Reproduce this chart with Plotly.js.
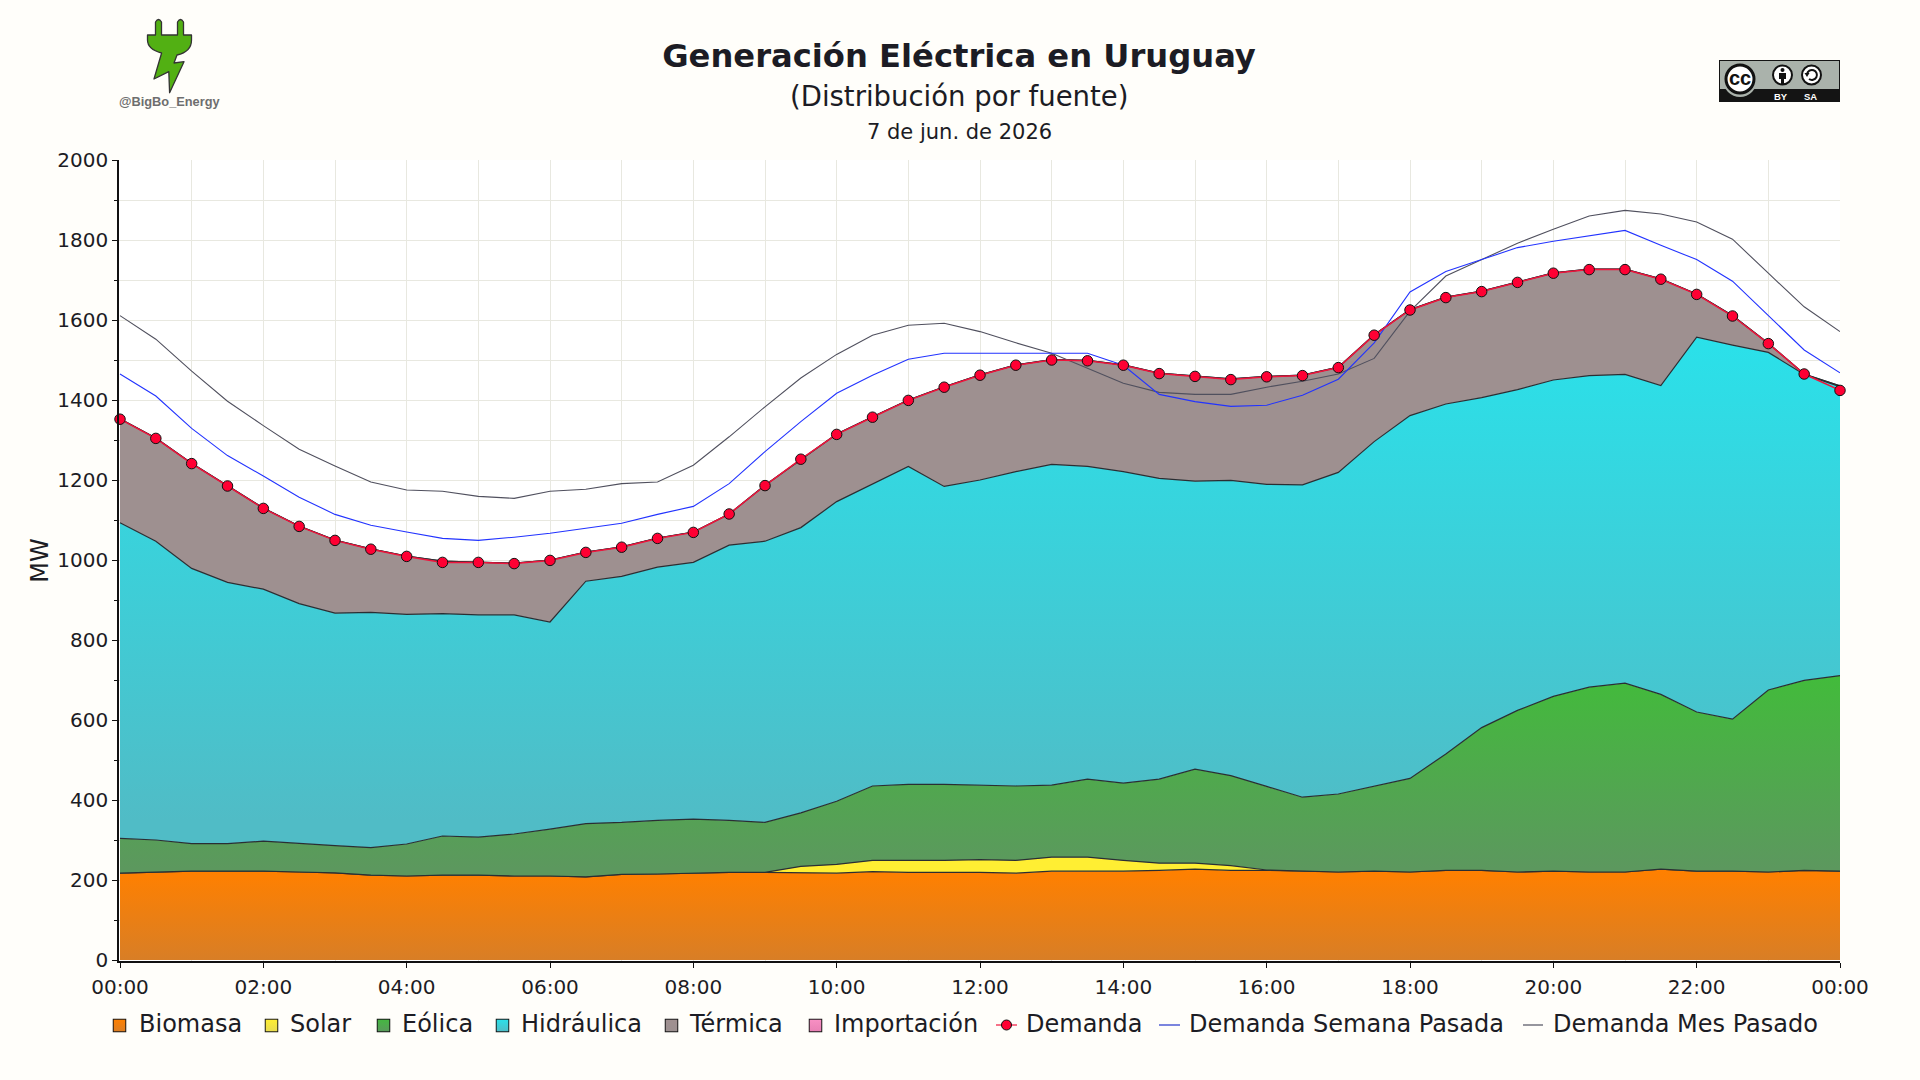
<!DOCTYPE html>
<html>
<head>
<meta charset="utf-8">
<script src="https://cdn.plot.ly/plotly-3.0.1.min.js"></script>
<style>
  html, body { margin: 0; padding: 0; background: #fffefa; }
  #chart { width: 1920px; height: 1080px; }
</style>
</head>
<body>
<div id="chart"></div>
<script>
(function() {
  'use strict';

  // MW por fuente, cada media hora de 00:00 a 24:00
  var biomasa = [217,219,222,222,222,220,218,212,210,212,212,210,210,208,214,215,217,219,219,218,217,221,219,219,219,217,222,222,222,224,227,224,224,222,220,222,220,224,224,220,222,220,220,227,222,222,220,224,222];
  var solar = [0,0,0,0,0,0,0,0,0,0,0,0,0,0,0,0,0,0,0,16,22,28,30,30,32,32,35,35,27,18,15,12,1,0,0,0,0,0,0,0,0,0,0,0,0,0,0,0,0];
  var eolica = [87,81,69,69,75,71,68,69,80,98,95,105,117,133,130,134,135,130,125,134,158,186,190,190,186,186,180,195,193,210,235,225,209,185,195,212,234,291,357,404,437,462,472,437,398,380,455,475,489];
  var hidraulica = [789,747,688,653,630,600,581,588,574,556,556,548,518,606,615,633,642,688,703,713,749,756,795,745,763,786,802,782,779,752,720,738,755,781,804,862,907,875,825,802,791,779,772,772,937,935,844,765,722];
  var termica = [260,258,263,242,203,194,183,159,146,131,132,129,155,73,74,73,76,78,140,171,169,167,166,249,263,267,262,265,267,263,263,254,270,274,263,267,265,267,266,269,268,266,263,267,108,74,23,1,2];
  var importacion = [0,0,0,0,0,0,0,0,0,0,0,0,0,0,0,0,0,0,0,0,0,0,0,0,0,0,0,0,0,0,0,0,0,0,0,0,0,0,0,0,0,0,0,0,0,0,0,0,0];
  var demanda = [1352,1304,1241,1185,1129,1084,1049,1027,1009,994,994,991,999,1019,1032,1054,1069,1115,1186,1252,1314,1357,1399,1432,1462,1487,1500,1498,1487,1466,1459,1451,1458,1461,1481,1562,1625,1656,1671,1694,1717,1726,1726,1702,1664,1610,1541,1465,1424];
  var semanaPasada = [1465,1410,1329,1261,1210,1157,1114,1087,1070,1054,1049,1057,1067,1079,1092,1114,1134,1191,1271,1346,1417,1462,1502,1517,1517,1517,1517,1517,1487,1414,1396,1384,1387,1412,1452,1543,1670,1721,1751,1781,1797,1811,1824,1787,1751,1697,1612,1525,1468];
  var mesPasado = [1611,1552,1472,1397,1336,1277,1235,1195,1175,1172,1159,1154,1172,1177,1191,1195,1237,1308,1383,1455,1514,1562,1587,1592,1571,1543,1517,1479,1442,1419,1414,1414,1432,1447,1465,1504,1622,1710,1750,1792,1827,1860,1874,1865,1845,1802,1717,1633,1571];

  var titulo = 'Generación Eléctrica en Uruguay';
  var subtitulo = '(Distribución por fuente)';
  var fecha = '7 de jun. de 2026';

  var W = 1920, H = 1080;
  // el eje queda 1px fuera de los datos: de ahí el hueco blanco junto al relleno
  var PLOT = { l: 119, r: 1840, t: 160, b: 961 };
  var INK = '#1c1c24';
  var EDGE = '#2a2e33';
  var FONT = '"DejaVu Sans", sans-serif';

  function px(x) { return (x - PLOT.l) / (PLOT.r - PLOT.l); }
  function py(y) { return (PLOT.b - y) / (PLOT.b - PLOT.t); }

  function horas() {
    var out = [];
    for (var i = 0; i < 48; i++) {
      var h = Math.floor(i / 2);
      out.push('2026-06-07 ' + (h < 10 ? '0' : '') + h + (i % 2 ? ':30' : ':00'));
    }
    out.push('2026-06-08 00:00');
    return out;
  }
  var x = horas();

  function area(name, y, color, grad) {
    var t = {
      x: x, y: y, name: name, type: 'scatter', mode: 'lines',
      stackgroup: 'fuentes',
      line: { color: EDGE, width: 1.2 },
      fillcolor: color,
      showlegend: false
    };
    if (grad) {
      t.fillgradient = {
        type: 'vertical', start: grad[0], stop: grad[1],
        colorscale: [[0, grad[2]], [1, grad[3]]]
      };
    }
    return t;
  }

  var data = [
    area('Biomasa', biomasa, '#f58010', [0, 220, '#d87e26', '#ff8000']),
    area('Solar', solar, '#ffee33'),
    area('Eólica', eolica, '#52a650', [230, 710, '#5c985e', '#42bb3b']),
    area('Hidráulica', hidraulica, '#3cd0da', [350, 1560, '#50bcc6', '#2ae1ea']),
    area('Térmica', termica, '#9e9090'),
    area('Importación', importacion, '#f080b8'),
    { x: x, y: mesPasado, name: 'Demanda Mes Pasado', type: 'scatter', mode: 'lines',
      line: { color: '#50505e', width: 1.1 }, showlegend: false },
    { x: x, y: semanaPasada, name: 'Demanda Semana Pasada', type: 'scatter', mode: 'lines',
      line: { color: '#2233ff', width: 1.1 }, showlegend: false },
    { x: x, y: demanda, name: 'Demanda', type: 'scatter', mode: 'lines+markers', cliponaxis: false,
      line: { color: '#f0143c', width: 1.5 },
      marker: { color: '#ff0033', size: 10.5, line: { color: '#111', width: 1 } },
      showlegend: false }
  ];

  // leyenda dibujada a mano: los cuadros de Plotly no tienen este tamaño
  var cajas = [
    ['Biomasa', '#ff8000', '#dc7e24', 113, 137],
    ['Solar', '#ffee33', '#e8dc50', 265, 288],
    ['Eólica', '#44b840', '#5a9a5c', 377, 400],
    ['Hidráulica', '#2ae1ea', '#50bcc6', 496, 519],
    ['Térmica', '#a09090', '#9c9090', 665, 687],
    ['Importación', '#f890c4', '#e880b4', 809, 832]
  ];
  var lineas = [
    ['Demanda', '#f0143c', 996, 1017, 1024],
    ['Demanda Semana Pasada', '#2233cc', 1159, 1180, 1187],
    ['Demanda Mes Pasado', '#50505e', 1523, 1543, 1551]
  ];
  var LEY_Y = 1024;
  var shapes = [], annotations = [], images = [];

  function etiqueta(text, xp, yp, size, opts) {
    var a = {
      text: text, x: px(xp), y: py(yp), xref: 'paper', yref: 'paper',
      showarrow: false, xanchor: 'left', yanchor: 'middle', align: 'left',
      font: { family: FONT, size: size, color: INK }
    };
    for (var k in (opts || {})) a[k] = opts[k];
    annotations.push(a);
  }

  function imagen(svg, x0, y0, w, h) {
    return {
      source: 'data:image/svg+xml;charset=utf-8,' + encodeURIComponent(svg),
      xref: 'paper', yref: 'paper',
      x: px(x0), y: py(y0),
      sizex: w / (PLOT.r - PLOT.l), sizey: h / (PLOT.b - PLOT.t),
      xanchor: 'left', yanchor: 'top', sizing: 'stretch', layer: 'above'
    };
  }

  function cuadro(arriba, abajo) {
    return '<svg xmlns="http://www.w3.org/2000/svg" viewBox="0 0 14 14" width="14" height="14">' +
      '<defs><linearGradient id="g" x1="0" y1="0" x2="0" y2="1">' +
      '<stop offset="0" stop-color="' + arriba + '"/><stop offset="1" stop-color="' + abajo + '"/>' +
      '</linearGradient></defs>' +
      '<rect x="0.6" y="0.6" width="12.8" height="12.8" fill="url(#g)" stroke="#111" stroke-width="1.2"/></svg>';
  }

  cajas.forEach(function(c) {
    images.push(imagen(cuadro(c[1], c[2]), c[3] - 0.5, 1018.5, 14, 14));
    etiqueta(c[0], c[4], LEY_Y, 24);
  });
  lineas.forEach(function(l) {
    shapes.push({
      type: 'line', xref: 'paper', yref: 'paper',
      x0: px(l[2]), x1: px(l[3]), y0: py(1025), y1: py(1025),
      line: { color: l[1], width: 1.2 }
    });
    etiqueta(l[0], l[4], LEY_Y, 24);
  });
  shapes.push({
    type: 'circle', xref: 'paper', yref: 'paper',
    x0: px(1001.5), x1: px(1011.5), y0: py(1020), y1: py(1030),
    fillcolor: '#ff0033', line: { color: '#111', width: 1 }
  });

  etiqueta(subtitulo, 959, 96, 27.5, { xanchor: 'center' });
  etiqueta(fecha, 959, 132, 21, { xanchor: 'center' });
  etiqueta('@BigBo_Energy', 170, 101, 12.5, {
    xanchor: 'center',
    font: { family: '"Liberation Sans", sans-serif', size: 12.8, color: '#6e6e6e', weight: 700 }
  });
  etiqueta('cc', 1740, 78, 18, {
    xanchor: 'center',
    font: { family: '"Liberation Sans", sans-serif', size: 20, color: '#111', weight: 700 }
  });
  etiqueta('BY', 1781, 96, 9, {
    xanchor: 'center',
    font: { family: '"Liberation Sans", sans-serif', size: 9.5, color: '#fff', weight: 700 }
  });
  etiqueta('SA', 1810, 96, 9, {
    xanchor: 'center',
    font: { family: '"Liberation Sans", sans-serif', size: 9.5, color: '#fff', weight: 700 }
  });

  var enchufe = '<svg xmlns="http://www.w3.org/2000/svg" viewBox="0 0 60 80" width="60" height="80">' +
    '<path d="M15.5,6 Q18.5,1 21.5,6 V19 H37.5 V6 Q40.5,1 43.5,6 V19 H51.5 V24 C51.5,32 46,37 37,39 L34,47 L44,45.7 L29.6,76.7 L28.8,55.7 L14,63 L21.6,37 C14,35 7.5,31 7.5,24 V19 H15.5 Z" ' +
    'fill="#52b013" stroke="#333" stroke-width="1.3" stroke-linejoin="round"/></svg>';

  var licencia = '<svg xmlns="http://www.w3.org/2000/svg" viewBox="0 0 121 42" width="121" height="42">' +
    '<rect x="0" y="0" width="121" height="42" fill="#aab2ab"/>' +
    '<rect x="0" y="29" width="121" height="13" fill="#141414"/>' +
    '<rect x="0.5" y="0.5" width="120" height="41" fill="none" stroke="#141414"/>' +
    '<circle cx="21" cy="20" r="17" fill="#aab2ab"/>' +
    '<circle cx="21" cy="19" r="14" fill="#fff" stroke="#111" stroke-width="3"/>' +
    '<circle cx="63.5" cy="15" r="9.5" fill="#fff" stroke="#111" stroke-width="2"/>' +
    '<circle cx="63.5" cy="10" r="2" fill="#111"/>' +
    '<path d="M60,13 H67 V19 H65 V24 H62 V19 H60 Z" fill="#111"/>' +
    '<circle cx="92.5" cy="15" r="9.5" fill="#fff" stroke="#111" stroke-width="2"/>' +
    '<path d="M88,14 A5,5 0 1 1 90,19" fill="none" stroke="#111" stroke-width="2"/>' +
    '<path d="M85.5,13 L90.5,13 L88,17 Z" fill="#111"/>' +
    '</svg>';

  images.push(imagen(enchufe, 140, 16, 60, 80));
  images.push(imagen(licencia, 1719, 60, 121, 42));

  var layout = {
    width: W, height: H,
    paper_bgcolor: '#fffefa',
    plot_bgcolor: '#ffffff',
    margin: { l: PLOT.l, r: W - PLOT.r, t: PLOT.t, b: H - PLOT.b, pad: 0 },
    font: { family: FONT, size: 20, color: INK },
    showlegend: false,
    hovermode: false,
    title: {
      text: titulo,
      x: 959 / W, xanchor: 'center',
      y: 1 - 55.5 / H, yanchor: 'middle',
      font: { family: FONT, size: 32.2, color: INK, weight: 700 }
    },
    xaxis: {
      type: 'date',
      range: ['2026-06-06 23:59:10', '2026-06-08 00:00'],
      tick0: '2026-06-07 00:00', dtick: 7200000,
      tickformat: '%H:%M',
      ticks: 'outside', ticklen: 5, tickwidth: 1.2, tickcolor: '#111',
      ticklabelstandoff: 2,
      showline: true, linecolor: '#111', linewidth: 1.5,
      showgrid: true, gridcolor: '#e8e8e0', gridwidth: 1,
      minor: { dtick: 3600000, showgrid: true, gridcolor: '#e8e8e0', gridwidth: 1, ticks: '' },
      zeroline: false,
      tickfont: { size: 20, color: INK }
    },
    yaxis: {
      range: [-2.5, 2000], tick0: 0, dtick: 200,
      title: { text: 'MW', standoff: 2, font: { size: 24, color: INK } },
      ticks: 'outside', ticklen: 5, tickwidth: 1.2, tickcolor: '#111',
      showline: true, linecolor: '#111', linewidth: 1.5,
      showgrid: true, gridcolor: '#e8e8e0', gridwidth: 1,
      minor: { dtick: 100, showgrid: true, gridcolor: '#e8e8e0', gridwidth: 1, ticks: 'outside', ticklen: 3, tickcolor: '#111' },
      zeroline: false,
      tickfont: { size: 20, color: INK }
    },
    shapes: shapes,
    annotations: annotations,
    images: images
  };

  Plotly.newPlot('chart', data, layout, { displayModeBar: false, responsive: false });
})();
</script>
</body>
</html>
